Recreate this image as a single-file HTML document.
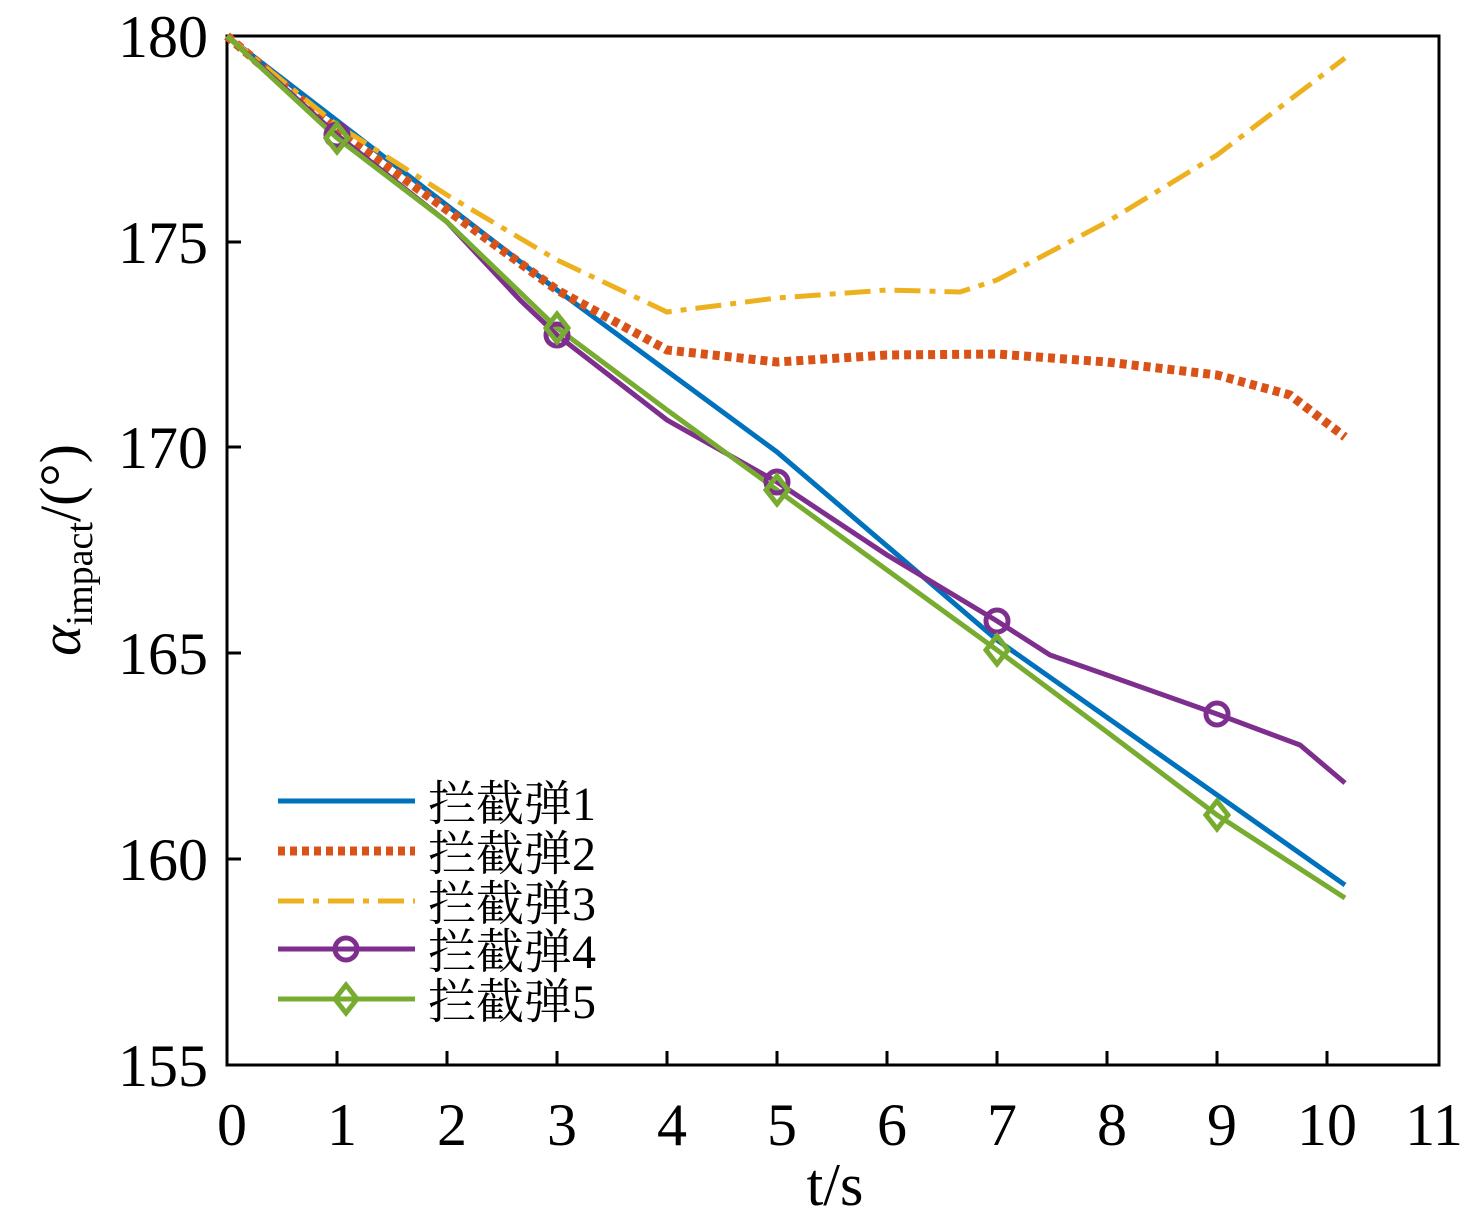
<html><body style="margin:0;background:#fff">
<svg width="1468" height="1226" xmlns="http://www.w3.org/2000/svg" font-family="Liberation Serif, Noto Serif CJK SC, serif">
<rect width="1468" height="1226" fill="#fff"/>
<rect x="227" y="36" width="1212" height="1029" fill="none" stroke="#000" stroke-width="3"/>
<g stroke="#000" stroke-width="3">
<line x1="337" y1="1065" x2="337" y2="1051"/><line x1="447" y1="1065" x2="447" y2="1051"/><line x1="557" y1="1065" x2="557" y2="1051"/><line x1="667" y1="1065" x2="667" y2="1051"/><line x1="777" y1="1065" x2="777" y2="1051"/><line x1="887" y1="1065" x2="887" y2="1051"/><line x1="997" y1="1065" x2="997" y2="1051"/><line x1="1107" y1="1065" x2="1107" y2="1051"/><line x1="1217" y1="1065" x2="1217" y2="1051"/><line x1="1327" y1="1065" x2="1327" y2="1051"/>
<line x1="227" y1="242" x2="241" y2="242"/><line x1="227" y1="447" x2="241" y2="447"/><line x1="227" y1="653" x2="241" y2="653"/><line x1="227" y1="859" x2="241" y2="859"/>
</g>
<g font-size="60" text-anchor="middle">
<text x="232" y="1145" textLength="28">0</text><text x="342" y="1145">1</text><text x="452" y="1145">2</text><text x="562" y="1145">3</text><text x="672" y="1145">4</text><text x="782" y="1145">5</text><text x="892" y="1145">6</text><text x="1002" y="1145">7</text><text x="1112" y="1145">8</text><text x="1222" y="1145">9</text><text x="1327" y="1145">10</text><text x="1434" y="1145">11</text>
<text x="835" y="1205">t/s</text>
</g>
<g font-size="60" text-anchor="end">
<text x="208" y="57">180</text><text x="208" y="263">175</text><text x="208" y="468">170</text><text x="208" y="674">165</text><text x="208" y="880">160</text><text x="208" y="1086">155</text>
</g>
<text transform="translate(80,550) rotate(-90)" font-size="58" text-anchor="middle"><tspan font-style="italic">α</tspan><tspan font-size="38" dy="12">impact</tspan><tspan dy="-12">/(°)</tspan></text>
<g fill="none">
<polyline stroke="#0072BD" stroke-width="5" points="227,36 557,290 777,452 997,640 1345,885"/>
<polyline stroke="#D95319" stroke-width="9" stroke-dasharray="7,5" points="227,36 337,130 447,210 557,290 667,350 777,362 887,355 997,354 1107,362 1217,375 1290,395 1345,437"/>
<polyline stroke="#EDB120" stroke-width="5" stroke-dasharray="26,9,6,9" points="227,36 337,125 447,195 557,260 667,312 777,298 887,290 960,292 997,280 1107,222 1217,155 1345,58"/>
<polyline stroke="#7E2F8E" stroke-width="5" points="227,36 337,135 447,222 520,300 557,335 667,420 777,482 887,555 997,621 1050,655 1107,675 1217,714 1300,745 1345,783"/>
<polyline stroke="#77AC30" stroke-width="5" points="227,36 337,138 447,222 557,328 667,410 777,490 887,570 997,650 1107,732 1217,815 1345,898"/>
<g stroke="#7E2F8E" stroke-width="5"><circle cx="337" cy="135" r="11"/><circle cx="557" cy="335" r="11"/><circle cx="777" cy="482" r="11"/><circle cx="997" cy="621" r="11"/><circle cx="1217" cy="714" r="11"/><circle cx="346" cy="949" r="11"/></g>
<g stroke="#77AC30" stroke-width="5">
<polygon points="337,124 348,138 337,152 326,138"/><polygon points="557,314 568,328 557,342 546,328"/><polygon points="777,476 788,490 777,504 766,490"/><polygon points="997,636 1008,650 997,664 986,650"/><polygon points="1217,801 1228,815 1217,829 1206,815"/><polygon points="346,985 357,999 346,1013 335,999"/></g>
<line x1="278" y1="801" x2="415" y2="801" stroke="#0072BD" stroke-width="5"/>
<line x1="278" y1="851" x2="415" y2="851" stroke="#D95319" stroke-width="9" stroke-dasharray="7,5"/>
<line x1="278" y1="901" x2="415" y2="901" stroke="#EDB120" stroke-width="5" stroke-dasharray="26,9,6,9"/>
<line x1="278" y1="949" x2="415" y2="949" stroke="#7E2F8E" stroke-width="5"/>
<line x1="278" y1="999" x2="415" y2="999" stroke="#77AC30" stroke-width="5"/>
</g>
<g font-size="48">
<text x="428" y="820">拦截弹1</text><text x="428" y="870">拦截弹2</text><text x="428" y="920">拦截弹3</text><text x="428" y="968">拦截弹4</text><text x="428" y="1018">拦截弹5</text>
</g>
</svg>
</body></html>
